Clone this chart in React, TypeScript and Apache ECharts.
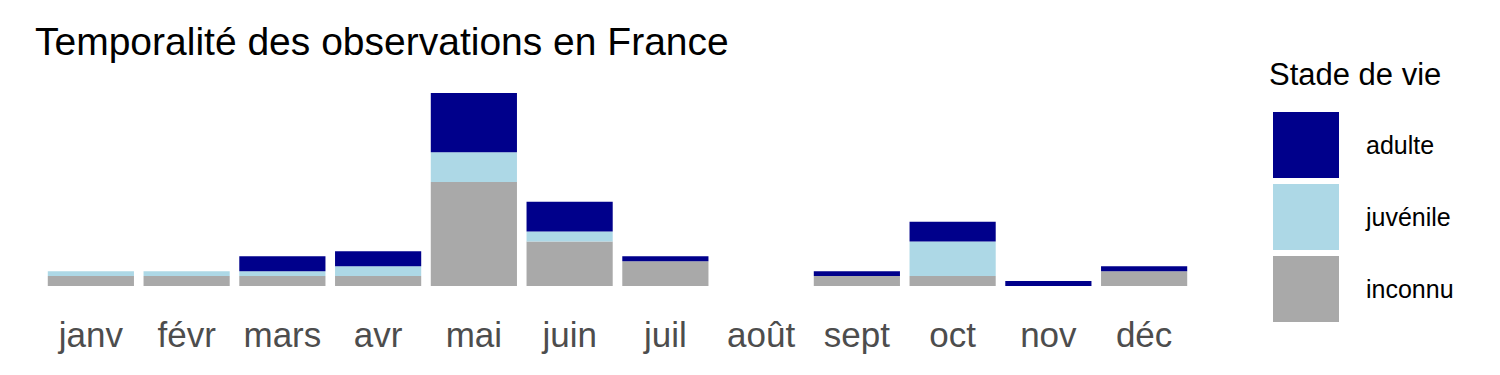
import React, { useEffect, useRef } from "react";
import * as echarts from "echarts";

const months = ["janv", "févr", "mars", "avr", "mai", "juin", "juil", "août", "sept", "oct", "nov", "déc"];
const inconnu = [2, 2, 2, 2, 21, 9, 5, 0, 2, 2, 0, 3];
const juvenile = [1, 1, 1, 2, 6, 2, 0, 0, 0, 7, 0, 0];
const adulte = [0, 0, 3, 3, 12, 6, 1, 0, 1, 4, 1, 1];

const FONT = "Liberation Sans, Arial, sans-serif";

export default function App() {
  const ref = useRef<HTMLDivElement>(null);
  useEffect(() => {
    if (!ref.current) return;
    const chart = echarts.init(ref.current, null, { renderer: "svg" });
    chart.setOption({
      animation: false,
      backgroundColor: "#ffffff",
      title: [
        {
          text: "Temporalité des observations en France",
          left: 22,
          top: 9,
          textStyle: { fontFamily: FONT, fontSize: 39, fontWeight: "normal", color: "#000000" },
        },
        {
          text: "Stade de vie",
          left: 1256,
          top: 46,
          textStyle: { fontFamily: FONT, fontSize: 31, fontWeight: "normal", color: "#000000" },
        },
      ],
      legend: {
        orient: "vertical",
        left: 1260,
        top: 99,
        itemWidth: 66,
        itemHeight: 66,
        itemGap: 6,
        icon: "rect",
        data: ["adulte", "juvénile", "inconnu"],
        textStyle: { fontFamily: FONT, fontSize: 25, color: "#000000", padding: [6, 0, 0, 22] },
      },
      grid: { left: 35, width: 1149, bottom: 81, top: 80 },
      xAxis: {
        type: "category",
        data: months,
        axisLine: { show: false },
        axisTick: { show: false },
        axisLabel: { fontFamily: FONT, fontSize: 35, color: "#4D4D4D", margin: 31, interval: 0 },
      },
      yAxis: {
        type: "value",
        min: 0,
        max: 40,
        show: false,
        splitLine: { show: false },
      },
      series: [
        { name: "inconnu", type: "bar", stack: "s", data: inconnu, barCategoryGap: "10%", itemStyle: { color: "#A9A9A9" } },
        { name: "juvénile", type: "bar", stack: "s", data: juvenile, barCategoryGap: "10%", itemStyle: { color: "#ADD8E6" } },
        { name: "adulte", type: "bar", stack: "s", data: adulte, barCategoryGap: "10%", itemStyle: { color: "#00008B" } },
      ],
    });
    return () => chart.dispose();
  }, []);
  return <div ref={ref} style={{ width: 1484, height: 359 }} />;
}
